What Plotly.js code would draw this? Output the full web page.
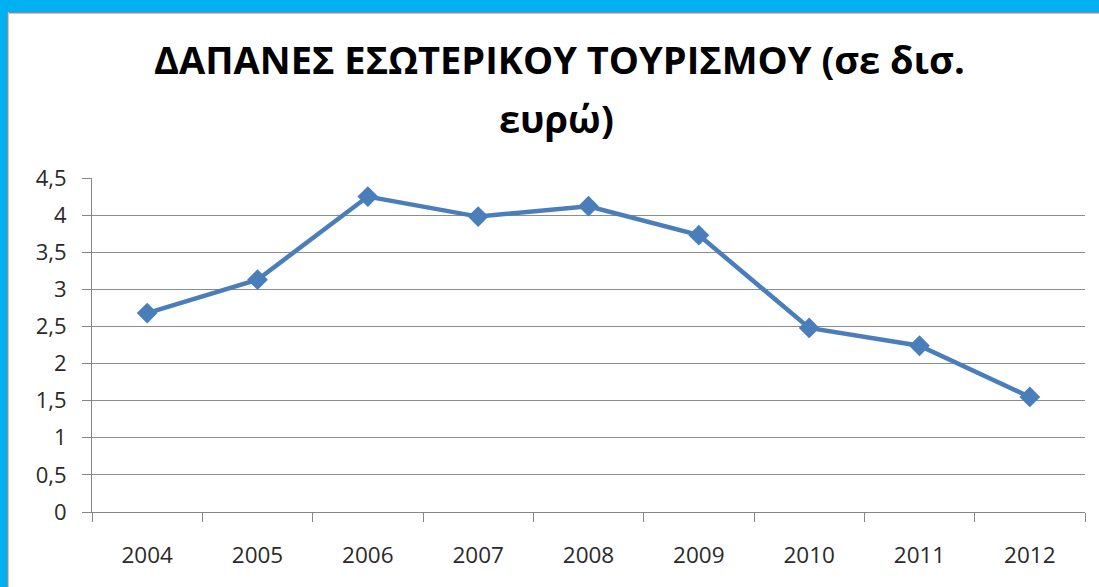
<!DOCTYPE html>
<html>
<head>
<meta charset="utf-8">
<script src="https://cdn.plot.ly/plotly-3.0.1.min.js"></script>
<style>
html,body{margin:0;padding:0;background:#fff;}
#wrap{position:relative;width:1099px;height:587px;overflow:hidden;}
#chart{position:absolute;left:0;top:0;width:1099px;height:587px;}
.bar{position:absolute;}
</style>
</head>
<body>
<div id="wrap">
<div id="chart"></div>
<div class="bar" style="left:0;top:0;width:1099px;height:12px;background:#00b0f0;"></div>
<div class="bar" style="left:7px;top:12px;width:1092px;height:1px;background:#8c8c8c;"></div>
<div class="bar" style="left:7px;top:13px;width:1092px;height:1px;background:#c8c8c8;"></div>
<div class="bar" style="left:0;top:0;width:7px;height:587px;background:#00b0f0;"></div>
<div class="bar" style="left:7px;top:12px;width:1px;height:575px;background:#8c8c8c;"></div>
<div class="bar" style="left:8px;top:12px;width:1px;height:575px;background:#c8c8c8;"></div>
</div>
<script>
const years = ['2004','2005','2006','2007','2008','2009','2010','2011','2012'];
const spending = [2.68, 3.13, 4.25, 3.98, 4.12, 3.73, 2.48, 2.24, 1.55];
const titleLine1 = 'ΔΑΠΑΝΕΣ ΕΣΩΤΕΡΙΚΟΥ ΤΟΥΡΙΣΜΟΥ (σε δισ.';
const titleLine2 = 'ευρώ)';

const titleFont = {family: '"Open Sans", "Noto Sans", sans-serif', size: 38, color: '#000', weight: 'bold'};

const trace = {
  x: years,
  y: spending,
  type: 'scatter',
  mode: 'lines+markers',
  line: {color: '#4a7ebb', width: 4.5},
  marker: {symbol: 'diamond', size: 16, color: '#4a7ebb'},
  hoverinfo: 'x+y'
};

const layout = {
  width: 1099,
  height: 587,
  paper_bgcolor: 'rgba(0,0,0,0)',
  plot_bgcolor: 'rgba(0,0,0,0)',
  separators: ',.',
  showlegend: false,
  margin: {l: 92, r: 14, t: 178, b: 75},
  font: {family: '"Open Sans", "Noto Sans", sans-serif', color: '#333'},
  title: {
    text: titleLine1,
    font: titleFont,
    xref: 'container', x: 0.509, xanchor: 'center',
    yref: 'container', y: 0.919, yanchor: 'top'
  },
  annotations: [{
    text: titleLine2,
    font: titleFont,
    xref: 'paper', x: 0.468, xanchor: 'center',
    yref: 'paper', y: 1.18, yanchor: 'middle',
    showarrow: false
  }],
  xaxis: {
    type: 'category',
    range: [-0.5, 8.5],
    tickson: 'boundaries',
    ticks: 'outside',
    ticklen: 9,
    tickcolor: '#868686',
    showline: true,
    linecolor: '#868686',
    linewidth: 1,
    showgrid: false,
    tickfont: {size: 22.5, color: '#2a2a2a'},
    ticklabelstandoff: 23,
    fixedrange: true
  },
  yaxis: {
    range: [0, 4.5],
    dtick: 0.5,
    tick0: 0,
    ticks: 'outside',
    ticklen: 9,
    tickcolor: '#868686',
    showline: true,
    linecolor: '#868686',
    linewidth: 1,
    showgrid: true,
    gridcolor: '#8c8c8c',
    gridwidth: 1,
    zeroline: false,
    tickfont: {size: 22, color: '#2a2a2a'},
    ticklabelstandoff: 11,
    fixedrange: true
  }
};

Plotly.newPlot('chart', [trace], layout, {displayModeBar: false, staticPlot: true});
</script>
</body>
</html>
